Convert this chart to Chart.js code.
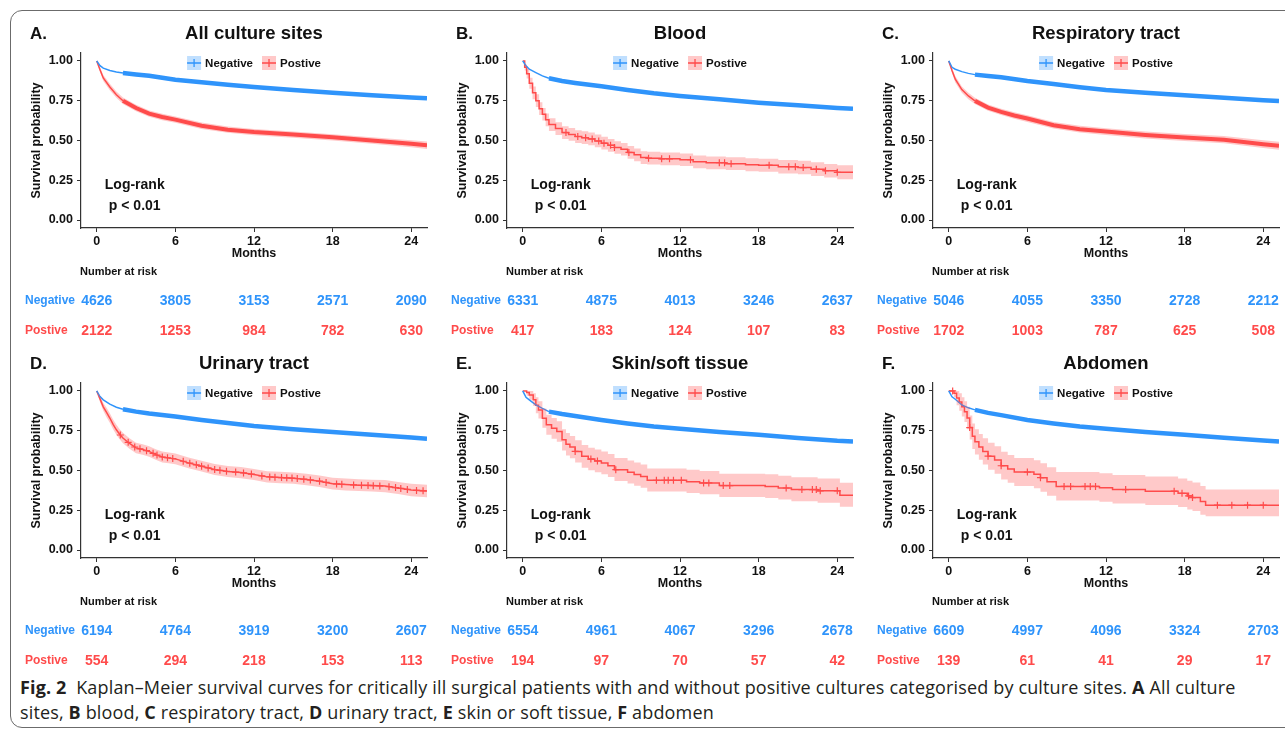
<!DOCTYPE html>
<html>
<head>
<meta charset="utf-8">
<script src="https://cdn.jsdelivr.net/npm/chart.js@4.4.1/dist/chart.umd.min.js"></script>
<style>
  html, body { margin: 0; padding: 0; background: #fff; }
  #page { position: relative; width: 1285px; height: 734px; overflow: hidden; }
  #frame { position: absolute; left: 10px; top: 10px; width: 1300px; height: 716px;
           border: 1.5px solid #6b6b6b; border-radius: 12px; }
  canvas { position: absolute; }
  #caption { position: absolute; left: 20px; top: 675px; width: 1250px;
             font-family: "Open Sans", "Noto Sans", sans-serif; font-size: 18px; letter-spacing: 0.15px;
             line-height: 25px; color: #231f20; white-space: nowrap; }
  #caption b { font-weight: bold; }
</style>
</head>
<body>
<div id="page">
  <div id="frame"></div>
  <canvas id="p0" width="425" height="330" style="left:10px;top:10px"></canvas>
  <canvas id="p1" width="425" height="330" style="left:436px;top:10px"></canvas>
  <canvas id="p2" width="425" height="330" style="left:862px;top:10px"></canvas>
  <canvas id="p3" width="425" height="330" style="left:10px;top:340px"></canvas>
  <canvas id="p4" width="425" height="330" style="left:436px;top:340px"></canvas>
  <canvas id="p5" width="425" height="330" style="left:862px;top:340px"></canvas>
  <div id="caption"><b>Fig. 2</b>&nbsp; Kaplan–Meier survival curves for critically ill surgical patients with and without positive cultures categorised by culture sites. <b>A</b> All culture<br>sites, <b>B</b> blood, <b>C</b> respiratory tract, <b>D</b> urinary tract, <b>E</b> skin or soft tissue, <b>F</b> abdomen</div>
</div>
<script>
// panneaux
var panelLetters = ['A.', 'B.', 'C.', 'D.', 'E.', 'F.'];
var panelTitles = ['All culture sites', 'Blood', 'Respiratory tract', 'Urinary tract', 'Skin/soft tissue', 'Abdomen'];
var groups = ['Negative', 'Postive'];
var monthTicks = [0, 6, 12, 18, 24];
var survTicks = [0, 0.25, 0.5, 0.75, 1];

// nombre de patients a risque
var riskNegA = [4626, 3805, 3153, 2571, 2090], riskPosA = [2122, 1253, 984, 782, 630];
var riskNegB = [6331, 4875, 4013, 3246, 2637], riskPosB = [417, 183, 124, 107, 83];
var riskNegC = [5046, 4055, 3350, 2728, 2212], riskPosC = [1702, 1003, 787, 625, 508];
var riskNegD = [6194, 4764, 3919, 3200, 2607], riskPosD = [554, 294, 218, 153, 113];
var riskNegE = [6554, 4961, 4067, 3296, 2678], riskPosE = [194, 97, 70, 57, 42];
var riskNegF = [6609, 4997, 4096, 3324, 2703], riskPosF = [139, 61, 41, 29, 17];

// courbes des cultures negatives (meme grille de temps)
var negTimes = [0, 0.25, 0.5, 1, 1.5, 2, 3, 4, 6, 8, 10, 12, 15, 18, 21, 24, 25.2];
var negA = [1, 0.97, 0.955, 0.94, 0.93, 0.924, 0.915, 0.907, 0.882, 0.866, 0.851, 0.836, 0.818, 0.80, 0.785, 0.771, 0.766];
var negB = [1, 0.969, 0.948, 0.927, 0.906, 0.891, 0.874, 0.862, 0.841, 0.818, 0.797, 0.78, 0.759, 0.738, 0.722, 0.705, 0.699];
var negC = [1, 0.96, 0.948, 0.933, 0.922, 0.914, 0.905, 0.897, 0.874, 0.855, 0.835, 0.818, 0.80, 0.785, 0.768, 0.753, 0.748];
var negD = [1, 0.965, 0.944, 0.917, 0.898, 0.885, 0.87, 0.858, 0.84, 0.818, 0.798, 0.78, 0.76, 0.742, 0.725, 0.708, 0.70];
var negE = [1, 0.96, 0.944, 0.912, 0.89, 0.87, 0.855, 0.843, 0.818, 0.796, 0.777, 0.762, 0.742, 0.724, 0.705, 0.687, 0.682];
var negF = [1, 0.963, 0.948, 0.912, 0.894, 0.881, 0.862, 0.848, 0.818, 0.796, 0.777, 0.762, 0.742, 0.724, 0.706, 0.689, 0.683];

// cultures positives : A et C (grands effectifs)
var posTimesAC = [0, 0.25, 0.5, 1, 1.5, 2, 3, 4, 5, 6, 8, 10, 12, 15, 18, 21, 24, 25.2];
var posA = [1, 0.945, 0.893, 0.836, 0.788, 0.75, 0.704, 0.669, 0.648, 0.631, 0.593, 0.568, 0.553, 0.537, 0.52, 0.50, 0.48, 0.47];
var posHiA = [1, 0.96, 0.912, 0.856, 0.808, 0.77, 0.724, 0.689, 0.668, 0.651, 0.613, 0.588, 0.573, 0.557, 0.54, 0.521, 0.502, 0.493];
var posLoA = [1, 0.93, 0.874, 0.816, 0.768, 0.73, 0.684, 0.649, 0.628, 0.611, 0.573, 0.548, 0.533, 0.517, 0.50, 0.479, 0.458, 0.447];
var posC = [1, 0.94, 0.885, 0.82, 0.78, 0.749, 0.707, 0.68, 0.657, 0.638, 0.596, 0.571, 0.556, 0.535, 0.519, 0.505, 0.477, 0.467];
var posHiC = [1, 0.955, 0.905, 0.84, 0.80, 0.769, 0.727, 0.70, 0.678, 0.659, 0.617, 0.592, 0.577, 0.557, 0.541, 0.528, 0.501, 0.492];
var posLoC = [1, 0.925, 0.865, 0.80, 0.76, 0.729, 0.687, 0.66, 0.636, 0.617, 0.575, 0.55, 0.535, 0.513, 0.497, 0.482, 0.453, 0.442];

// B : sang
var posTimesB = [0, 0.15, 0.3, 0.5, 0.75, 1, 1.25, 1.5, 1.75, 2, 2.5, 3, 3.5, 4, 4.5, 5, 5.5, 6, 6.5, 7, 7.5, 8, 8.5, 9, 9.5, 10.5, 12, 13, 14, 15.5, 17, 18, 19.5, 21, 22, 23, 24, 25.2];
var posB = [1, 0.96, 0.92, 0.86, 0.80, 0.75, 0.70, 0.665, 0.63, 0.60, 0.575, 0.55, 0.538, 0.525, 0.518, 0.51, 0.497, 0.483, 0.47, 0.456, 0.445, 0.425, 0.41, 0.393, 0.389, 0.385, 0.379, 0.366, 0.36, 0.354, 0.348, 0.345, 0.335, 0.33, 0.32, 0.31, 0.30, 0.295];
var posHiB = [1, 0.98, 0.95, 0.895, 0.84, 0.79, 0.74, 0.705, 0.67, 0.64, 0.615, 0.59, 0.578, 0.565, 0.558, 0.55, 0.537, 0.523, 0.51, 0.496, 0.485, 0.465, 0.45, 0.433, 0.429, 0.425, 0.419, 0.406, 0.40, 0.394, 0.389, 0.386, 0.377, 0.372, 0.363, 0.353, 0.344, 0.34];
var posLoB = [1, 0.94, 0.89, 0.825, 0.76, 0.71, 0.66, 0.625, 0.59, 0.56, 0.535, 0.51, 0.498, 0.485, 0.478, 0.47, 0.457, 0.443, 0.43, 0.416, 0.405, 0.385, 0.37, 0.353, 0.349, 0.345, 0.339, 0.326, 0.32, 0.314, 0.307, 0.304, 0.293, 0.288, 0.277, 0.267, 0.256, 0.25];
var censorB = [3.3, 4.2, 4.8, 5.3, 5.8, 6.2, 6.7, 7.0, 8.1, 9.6, 10.6, 11.2, 12.8, 15.0, 15.4, 15.9, 18.8, 20.3, 20.8, 21.4, 22.4, 23.1, 24.0];

// D : voies urinaires
var posTimesD = [0, 0.25, 0.5, 0.75, 1, 1.25, 1.5, 1.75, 2, 2.5, 3, 3.5, 4, 4.5, 5, 5.5, 6, 7, 8, 9, 10, 11, 12, 13, 14, 15, 16, 17, 18, 19, 20, 21, 22, 23, 24, 25.2];
var posD = [1, 0.95, 0.90, 0.865, 0.83, 0.79, 0.756, 0.728, 0.704, 0.67, 0.642, 0.632, 0.62, 0.60, 0.585, 0.579, 0.573, 0.548, 0.527, 0.506, 0.494, 0.487, 0.475, 0.46, 0.456, 0.452, 0.444, 0.433, 0.417, 0.412, 0.408, 0.405, 0.402, 0.39, 0.377, 0.371];
var posHiD = [1, 0.97, 0.925, 0.895, 0.86, 0.82, 0.788, 0.76, 0.737, 0.703, 0.675, 0.665, 0.653, 0.633, 0.619, 0.613, 0.607, 0.582, 0.561, 0.541, 0.529, 0.522, 0.51, 0.496, 0.492, 0.488, 0.48, 0.469, 0.454, 0.449, 0.445, 0.442, 0.44, 0.428, 0.416, 0.41];
var posLoD = [1, 0.93, 0.875, 0.835, 0.80, 0.76, 0.724, 0.696, 0.671, 0.637, 0.609, 0.599, 0.587, 0.567, 0.551, 0.545, 0.539, 0.514, 0.493, 0.471, 0.459, 0.452, 0.44, 0.424, 0.42, 0.416, 0.408, 0.397, 0.38, 0.375, 0.371, 0.368, 0.364, 0.352, 0.338, 0.332];
var censorD = [1.8, 2.4, 2.9, 3.3, 3.8, 4.3, 4.6, 5.0, 5.4, 5.8, 6.6, 7.1, 7.6, 8.0, 8.5, 9.0, 9.4, 9.9, 10.6, 11.2, 11.8, 12.6, 13.2, 13.6, 14.1, 14.5, 14.9, 15.3, 15.8, 16.3, 17.0, 17.5, 18.3, 18.7, 19.6, 20.2, 20.7, 21.1, 21.6, 22.3, 22.8, 23.2, 23.7, 24.4, 24.9];

// E : peau / tissus mous
var posTimesE = [0, 0.3, 0.5, 0.8, 1.0, 1.2, 1.5, 1.8, 2.2, 2.6, 3.0, 3.3, 3.6, 4.0, 4.5, 5.0, 5.5, 6.0, 6.5, 7.0, 8.0, 8.5, 9.0, 9.5, 12.5, 13.5, 15.0, 18.5, 19.5, 20.5, 22.5, 24.2, 25.2];
var posE = [1, 0.99, 0.975, 0.944, 0.91, 0.881, 0.829, 0.787, 0.765, 0.745, 0.693, 0.665, 0.647, 0.62, 0.589, 0.572, 0.56, 0.547, 0.53, 0.505, 0.489, 0.475, 0.463, 0.438, 0.43, 0.422, 0.405, 0.40, 0.39, 0.38, 0.372, 0.344, 0.344];
var posHiE = [1, 1, 1, 0.985, 0.96, 0.935, 0.89, 0.85, 0.83, 0.81, 0.76, 0.735, 0.717, 0.69, 0.66, 0.643, 0.632, 0.62, 0.603, 0.578, 0.563, 0.55, 0.538, 0.513, 0.505, 0.497, 0.48, 0.476, 0.467, 0.458, 0.45, 0.423, 0.423];
var posLoE = [1, 0.97, 0.945, 0.905, 0.86, 0.827, 0.768, 0.724, 0.70, 0.68, 0.626, 0.595, 0.577, 0.55, 0.518, 0.501, 0.489, 0.476, 0.459, 0.434, 0.418, 0.404, 0.392, 0.368, 0.358, 0.35, 0.333, 0.327, 0.317, 0.306, 0.298, 0.272, 0.272];
var censorE = [4.0, 5.2, 5.7, 7.1, 10.2, 10.8, 11.1, 11.5, 12.1, 13.8, 14.2, 15.3, 15.8, 20.1, 21.3, 22.1, 22.4, 22.7, 24.0];

// F : abdomen
var posTimesF = [0, 0.4, 0.6, 0.8, 1.0, 1.2, 1.4, 1.6, 1.8, 2.0, 2.3, 2.6, 3.0, 3.5, 4.0, 4.5, 5.0, 6.5, 7.0, 7.5, 8.2, 11.5, 12.5, 15.0, 17.5, 18.2, 18.6, 19.2, 19.6, 25.2];
var posF = [1, 0.985, 0.955, 0.93, 0.90, 0.87, 0.83, 0.77, 0.715, 0.68, 0.648, 0.62, 0.59, 0.566, 0.53, 0.51, 0.49, 0.476, 0.455, 0.43, 0.40, 0.392, 0.38, 0.37, 0.357, 0.34, 0.33, 0.305, 0.282, 0.282];
var posHiF = [1, 1, 1, 0.985, 0.96, 0.935, 0.9, 0.845, 0.795, 0.76, 0.73, 0.703, 0.675, 0.652, 0.618, 0.598, 0.578, 0.565, 0.545, 0.52, 0.49, 0.483, 0.472, 0.463, 0.45, 0.435, 0.425, 0.402, 0.38, 0.38];
var posLoF = [1, 0.96, 0.91, 0.875, 0.84, 0.805, 0.76, 0.695, 0.635, 0.60, 0.567, 0.537, 0.505, 0.48, 0.443, 0.423, 0.403, 0.388, 0.367, 0.342, 0.312, 0.304, 0.293, 0.283, 0.27, 0.255, 0.245, 0.222, 0.212, 0.212];
var censorF = [0.3, 1.6, 3.0, 4.0, 6.0, 7.0, 8.8, 9.3, 10.4, 10.8, 11.2, 13.5, 17.2, 17.8, 18.3, 18.6, 20.5, 21.6, 22.8, 24.0];

var BLUE = '#2f94fb', BLUE_FILL = 'rgba(47,148,251,0.3)';
var RED = '#ff4b4b', RED_FILL = 'rgba(255,75,75,0.3)';
var FONT = '"Liberation Sans", Arial, sans-serif';

var panels = [
  { neg: negA, posT: posTimesAC, pos: posA, hi: posHiA, lo: posLoA, stepped: false, dense: true, censor: [], rn: riskNegA, rp: riskPosA },
  { neg: negB, posT: posTimesB, pos: posB, hi: posHiB, lo: posLoB, stepped: true, dense: false, censor: censorB, rn: riskNegB, rp: riskPosB },
  { neg: negC, posT: posTimesAC, pos: posC, hi: posHiC, lo: posLoC, stepped: false, dense: true, censor: [], rn: riskNegC, rp: riskPosC },
  { neg: negD, posT: posTimesD, pos: posD, hi: posHiD, lo: posLoD, stepped: false, dense: false, censor: censorD, rn: riskNegD, rp: riskPosD },
  { neg: negE, posT: posTimesE, pos: posE, hi: posHiE, lo: posLoE, stepped: true, dense: false, censor: censorE, rn: riskNegE, rp: riskPosE },
  { neg: negF, posT: posTimesF, pos: posF, hi: posHiF, lo: posLoF, stepped: true, dense: false, censor: censorF, rn: riskNegF, rp: riskPosF }
];

function pts(ts, vs) { return ts.map(function (t, i) { return { x: t, y: vs[i] }; }); }

function survAt(ts, vs, t, stepped) {
  for (var i = 1; i < ts.length; i++) {
    if (t < ts[i]) {
      if (stepped) return vs[i - 1];
      var f = (t - ts[i - 1]) / (ts[i] - ts[i - 1]);
      return vs[i - 1] + f * (vs[i] - vs[i - 1]);
    }
  }
  return vs[vs.length - 1];
}

// titres, legende, texte du test et tableau des effectifs
var kmDecor = {
  id: 'kmDecor',
  afterDraw: function (chart, args, o) {
    var ctx = chart.ctx, a = chart.chartArea, xs = chart.scales.x, ys = chart.scales.y;
    var cx = (a.left + a.right) / 2;
    ctx.save();
    ctx.fillStyle = '#111';
    ctx.textBaseline = 'middle';

    ctx.font = 'bold 17px ' + FONT;
    ctx.textAlign = 'left';
    ctx.fillText(o.letter, 20, 24);
    ctx.font = 'bold 18.5px ' + FONT;
    ctx.textAlign = 'center';
    ctx.fillText(o.title, cx, 24);

    ctx.font = 'bold 12.5px ' + FONT;
    ctx.fillText('Months', cx, 243.5);
    ctx.save();
    ctx.translate(27, (a.top + a.bottom) / 2);
    ctx.rotate(-Math.PI / 2);
    ctx.fillText('Survival probability', 0, 0);
    ctx.restore();

    ctx.font = 'bold 14px ' + FONT;
    ctx.fillText('Log-rank', xs.getPixelForValue(2.9), ys.getPixelForValue(0.222));
    ctx.fillText('p < 0.01', xs.getPixelForValue(2.9), ys.getPixelForValue(0.086));

    // legende
    ctx.font = 'bold 11.5px ' + FONT;
    var w0 = ctx.measureText(groups[0]).width, w1 = ctx.measureText(groups[1]).width;
    var total = 14 + 4 + w0 + 9 + 14 + 4 + w1;
    var lx = cx - total / 2, ly = a.top + 10;
    var keys = [[BLUE, BLUE_FILL, groups[0], w0], [RED, RED_FILL, groups[1], w1]];
    keys.forEach(function (k) {
      ctx.fillStyle = k[1];
      ctx.fillRect(lx, ly - 7, 14, 14);
      ctx.strokeStyle = k[0];
      ctx.lineWidth = 1.3;
      ctx.beginPath();
      ctx.moveTo(lx, ly); ctx.lineTo(lx + 14, ly);
      ctx.moveTo(lx + 7, ly - 4); ctx.lineTo(lx + 7, ly + 4);
      ctx.stroke();
      ctx.fillStyle = '#111';
      ctx.textAlign = 'left';
      ctx.fillText(k[2], lx + 18, ly + 0.5);
      lx += 18 + k[3] + 9;
    });

    // tableau "Number at risk"
    ctx.font = 'bold 11px ' + FONT;
    ctx.fillStyle = '#111';
    ctx.textAlign = 'left';
    ctx.fillText('Number at risk', 70, 262);
    ctx.font = 'bold 12px ' + FONT;
    ctx.fillStyle = BLUE;
    ctx.fillText(groups[0], 15, 291);
    ctx.fillStyle = RED;
    ctx.fillText(groups[1], 15, 321);
    ctx.font = 'bold 14px ' + FONT;
    ctx.textAlign = 'center';
    monthTicks.forEach(function (m, i) {
      var px = xs.getPixelForValue(m);
      ctx.fillStyle = BLUE;
      ctx.fillText(String(o.riskNeg[i]), px, 291);
      ctx.fillStyle = RED;
      ctx.fillText(String(o.riskPos[i]), px, 321);
    });
    ctx.restore();
  }
};

function thick(from, wide) {
  return function (c) { return c.p0.parsed.x >= from ? wide : 1.5; };
}

panels.forEach(function (p, i) {
  var censorPts = p.censor.map(function (t) {
    return { x: t, y: survAt(p.posT, p.pos, t, p.stepped) };
  });
  var ctx = document.getElementById('p' + i).getContext('2d');
  new Chart(ctx, {
    type: 'line',
    data: {
      datasets: [
        { data: pts(p.posT, p.hi), borderWidth: 0, pointRadius: 0, stepped: p.stepped,
          backgroundColor: RED_FILL, fill: '+1' },
        { data: pts(p.posT, p.lo), borderWidth: 0, pointRadius: 0, stepped: p.stepped, fill: false },
        { data: pts(negTimes, p.neg), borderColor: BLUE, pointRadius: 0, fill: false,
          borderWidth: 1.5, segment: { borderWidth: thick(2, 4.5) } },
        { data: pts(p.posT, p.pos), borderColor: RED, pointRadius: 0, fill: false, stepped: p.stepped,
          borderWidth: 1.5, segment: { borderWidth: p.dense ? thick(2, 4) : function () { return 1.5; } } },
        { data: censorPts, showLine: false, pointStyle: 'cross', pointRadius: 3.5,
          pointBorderWidth: 1.2, pointBorderColor: RED, borderColor: RED }
      ]
    },
    options: {
      responsive: false,
      animation: false,
      layout: { padding: { top: 43, right: 8, bottom: 76, left: 0 } },
      plugins: {
        legend: { display: false },
        tooltip: { enabled: false },
        kmDecor: { letter: panelLetters[i], title: panelTitles[i], riskNeg: p.rn, riskPos: p.rp }
      },
      scales: {
        x: {
          type: 'linear', min: -1.2, max: 25.2,
          afterBuildTicks: function (s) { s.ticks = monthTicks.map(function (v) { return { value: v }; }); },
          afterFit: function (s) { s.height = 36; },
          ticks: { color: '#111', padding: 2, maxRotation: 0, font: { family: FONT, size: 12.5, weight: 'bold' } },
          grid: { drawOnChartArea: false, tickLength: 4, color: '#333' },
          border: { color: '#333', width: 1.2 }
        },
        y: {
          type: 'linear', min: -0.05, max: 1.05,
          afterBuildTicks: function (s) { s.ticks = survTicks.map(function (v) { return { value: v }; }); },
          afterFit: function (s) { s.width = 71; },
          ticks: { color: '#111', padding: 4, font: { family: FONT, size: 12.5, weight: 'bold' },
                   callback: function (v) { return v.toFixed(2); } },
          grid: { drawOnChartArea: false, tickLength: 4, color: '#333' },
          border: { color: '#333', width: 1.2 }
        }
      }
    },
    plugins: [kmDecor]
  });
});
</script>
</body>
</html>
